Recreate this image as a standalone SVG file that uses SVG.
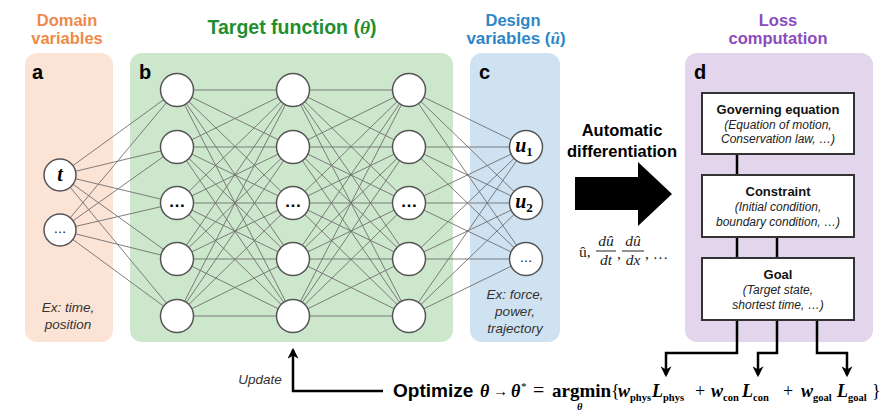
<svg xmlns="http://www.w3.org/2000/svg" width="895" height="416" viewBox="0 0 895 416">
<defs>
<style>
.sans{font-family:"Liberation Sans",Arial,sans-serif}
.serif{font-family:"Liberation Serif","Times New Roman",serif}
.title{font-family:"Liberation Sans",Arial,sans-serif;font-weight:bold;font-size:16.5px;text-anchor:middle}
.letter{font-family:"Liberation Sans",Arial,sans-serif;font-weight:bold;font-size:20px;fill:#000}
.ex{font-family:"Liberation Sans",Arial,sans-serif;font-style:italic;font-size:13.5px;fill:#333;text-anchor:middle}
.node circle{fill:#fff;stroke:#555;stroke-width:1.5}
.edge line{stroke:#6f6f6f;stroke-width:0.9}
.box rect{fill:#fff;stroke:#333;stroke-width:2}
.bt{font-family:"Liberation Sans",Arial,sans-serif;font-weight:bold;font-size:13px;text-anchor:middle;fill:#111}
.bs{font-family:"Liberation Sans",Arial,sans-serif;font-style:italic;font-size:12px;text-anchor:middle;fill:#222}
.flow{fill:none;stroke:#000;stroke-width:2.5}
.formula{font-family:"Liberation Serif","Times New Roman",serif;font-weight:bold;font-size:18px;fill:#000}
.it{font-style:italic}
.nb{font-weight:normal}
.sub{font-size:10.5px}
</style>
<marker id="ah" viewBox="0 0 10 10" refX="8" refY="5" markerWidth="4.4" markerHeight="4.4" orient="auto" markerUnits="strokeWidth">
<path d="M0,0 L10,5 L0,10 L3,5 Z" fill="#000"/>
</marker>
</defs>
<rect width="895" height="416" fill="#fff"/>

<!-- panels -->
<g id="panel-a"><rect x="25" y="53" width="88" height="289" rx="12" fill="#FBE3D6"/><text class="letter" x="32" y="79">a</text></g>
<g id="panel-b"><rect x="130" y="53" width="323" height="289" rx="12" fill="#CDE7CC"/><text class="letter" x="139" y="79">b</text></g>
<g id="panel-c"><rect x="470" y="53" width="90" height="289" rx="12" fill="#CFE2F1"/><text class="letter" x="479" y="79">c</text></g>
<g id="panel-d"><rect x="685" y="53" width="188" height="289" rx="12" fill="#E3D5EC"/><text class="letter" x="694" y="79">d</text></g>

<!-- titles -->
<g id="titles">
<text class="title" x="67" y="26" fill="#EE8A49">Domain</text>
<text class="title" x="67" y="44" fill="#EE8A49">variables</text>
<text class="title" x="292" y="34" fill="#1F8F2E" style="font-size:19.5px">Target function (<tspan class="serif" font-style="italic">θ</tspan>)</text>
<text class="title" x="513" y="26" fill="#2E86C8">Design</text>
<text class="title" x="516" y="44" fill="#2E86C8" style="font-size:17px">variables (<tspan class="serif" font-style="italic">û</tspan>)</text>
<text class="title" x="778" y="26" fill="#8B4BBE">Loss</text>
<text class="title" x="778" y="44" fill="#8B4BBE">computation</text>
</g>

<!-- connectors -->
<g id="connectors">
<g class="edge">
<line x1="60" y1="175" x2="177" y2="90"/><line x1="60" y1="175" x2="177" y2="147"/><line x1="60" y1="175" x2="177" y2="203"/><line x1="60" y1="175" x2="177" y2="259"/><line x1="60" y1="175" x2="177" y2="316"/>
<line x1="60" y1="230" x2="177" y2="90"/><line x1="60" y1="230" x2="177" y2="147"/><line x1="60" y1="230" x2="177" y2="203"/><line x1="60" y1="230" x2="177" y2="259"/><line x1="60" y1="230" x2="177" y2="316"/>
<line x1="177" y1="90" x2="293" y2="90"/><line x1="177" y1="90" x2="293" y2="147"/><line x1="177" y1="90" x2="293" y2="203"/><line x1="177" y1="90" x2="293" y2="259"/><line x1="177" y1="90" x2="293" y2="316"/>
<line x1="177" y1="147" x2="293" y2="90"/><line x1="177" y1="147" x2="293" y2="147"/><line x1="177" y1="147" x2="293" y2="203"/><line x1="177" y1="147" x2="293" y2="259"/><line x1="177" y1="147" x2="293" y2="316"/>
<line x1="177" y1="203" x2="293" y2="90"/><line x1="177" y1="203" x2="293" y2="147"/><line x1="177" y1="203" x2="293" y2="203"/><line x1="177" y1="203" x2="293" y2="259"/><line x1="177" y1="203" x2="293" y2="316"/>
<line x1="177" y1="259" x2="293" y2="90"/><line x1="177" y1="259" x2="293" y2="147"/><line x1="177" y1="259" x2="293" y2="203"/><line x1="177" y1="259" x2="293" y2="259"/><line x1="177" y1="259" x2="293" y2="316"/>
<line x1="177" y1="316" x2="293" y2="90"/><line x1="177" y1="316" x2="293" y2="147"/><line x1="177" y1="316" x2="293" y2="203"/><line x1="177" y1="316" x2="293" y2="259"/><line x1="177" y1="316" x2="293" y2="316"/>
<line x1="293" y1="90" x2="409" y2="90"/><line x1="293" y1="90" x2="409" y2="147"/><line x1="293" y1="90" x2="409" y2="203"/><line x1="293" y1="90" x2="409" y2="259"/><line x1="293" y1="90" x2="409" y2="316"/>
<line x1="293" y1="147" x2="409" y2="90"/><line x1="293" y1="147" x2="409" y2="147"/><line x1="293" y1="147" x2="409" y2="203"/><line x1="293" y1="147" x2="409" y2="259"/><line x1="293" y1="147" x2="409" y2="316"/>
<line x1="293" y1="203" x2="409" y2="90"/><line x1="293" y1="203" x2="409" y2="147"/><line x1="293" y1="203" x2="409" y2="203"/><line x1="293" y1="203" x2="409" y2="259"/><line x1="293" y1="203" x2="409" y2="316"/>
<line x1="293" y1="259" x2="409" y2="90"/><line x1="293" y1="259" x2="409" y2="147"/><line x1="293" y1="259" x2="409" y2="203"/><line x1="293" y1="259" x2="409" y2="259"/><line x1="293" y1="259" x2="409" y2="316"/>
<line x1="293" y1="316" x2="409" y2="90"/><line x1="293" y1="316" x2="409" y2="147"/><line x1="293" y1="316" x2="409" y2="203"/><line x1="293" y1="316" x2="409" y2="259"/><line x1="293" y1="316" x2="409" y2="316"/>
<line x1="409" y1="90" x2="526" y2="147"/><line x1="409" y1="90" x2="526" y2="203"/><line x1="409" y1="90" x2="526" y2="259"/>
<line x1="409" y1="147" x2="526" y2="147"/><line x1="409" y1="147" x2="526" y2="203"/><line x1="409" y1="147" x2="526" y2="259"/>
<line x1="409" y1="203" x2="526" y2="147"/><line x1="409" y1="203" x2="526" y2="203"/><line x1="409" y1="203" x2="526" y2="259"/>
<line x1="409" y1="259" x2="526" y2="147"/><line x1="409" y1="259" x2="526" y2="203"/><line x1="409" y1="259" x2="526" y2="259"/>
<line x1="409" y1="316" x2="526" y2="147"/><line x1="409" y1="316" x2="526" y2="203"/><line x1="409" y1="316" x2="526" y2="259"/>
</g>
<line class="flow" x1="737" y1="154" x2="737" y2="175"/>
<line class="flow" x1="737" y1="237" x2="737" y2="258"/>
<line class="flow" x1="777" y1="237" x2="777" y2="258"/>
<path class="flow" d="M737,320 V353 H666 V375" marker-end="url(#ah)"/>
<path class="flow" d="M777,320 V353 H758 V375" marker-end="url(#ah)"/>
<path class="flow" d="M817,320 V353 H847 V375" marker-end="url(#ah)"/>
<path class="flow" d="M383,391 H293 V350" marker-end="url(#ah)"/>
<polygon points="575,177 638,177 638,162 672,194 638,226 638,210 575,210" fill="#000"/>
</g>

<!-- input nodes -->
<g id="in-t" class="node"><circle cx="60" cy="175" r="16"/><text class="serif" x="60" y="181" font-size="20" font-weight="bold" font-style="italic" text-anchor="middle">t</text></g>
<g id="in-more" class="node"><circle cx="60" cy="230" r="16"/><text class="sans" x="60" y="233" font-size="13" text-anchor="middle">…</text></g>

<!-- hidden layers -->
<g id="h1-1" class="node"><circle cx="177" cy="90" r="16.5"/></g>
<g id="h1-2" class="node"><circle cx="177" cy="147" r="16.5"/></g>
<g id="h1-3" class="node"><circle cx="177" cy="203" r="16.5"/><text class="sans" x="177" y="207" font-size="17" font-weight="bold" text-anchor="middle">…</text></g>
<g id="h1-4" class="node"><circle cx="177" cy="259" r="16.5"/></g>
<g id="h1-5" class="node"><circle cx="177" cy="316" r="16.5"/></g>
<g id="h2-1" class="node"><circle cx="293" cy="90" r="16.5"/></g>
<g id="h2-2" class="node"><circle cx="293" cy="147" r="16.5"/></g>
<g id="h2-3" class="node"><circle cx="293" cy="203" r="16.5"/><text class="sans" x="293" y="207" font-size="17" font-weight="bold" text-anchor="middle">…</text></g>
<g id="h2-4" class="node"><circle cx="293" cy="259" r="16.5"/></g>
<g id="h2-5" class="node"><circle cx="293" cy="316" r="16.5"/></g>
<g id="h3-1" class="node"><circle cx="409" cy="90" r="16.5"/></g>
<g id="h3-2" class="node"><circle cx="409" cy="147" r="16.5"/></g>
<g id="h3-3" class="node"><circle cx="409" cy="203" r="16.5"/><text class="sans" x="409" y="207" font-size="17" font-weight="bold" text-anchor="middle">…</text></g>
<g id="h3-4" class="node"><circle cx="409" cy="259" r="16.5"/></g>
<g id="h3-5" class="node"><circle cx="409" cy="316" r="16.5"/></g>

<!-- outputs -->
<g id="out-u1" class="node"><circle cx="526" cy="147" r="16.5"/><text class="serif" x="524" y="152" font-size="20" font-weight="bold" font-style="italic" text-anchor="middle">u<tspan font-size="13" font-style="normal" dy="4">1</tspan></text></g>
<g id="out-u2" class="node"><circle cx="526" cy="203" r="16.5"/><text class="serif" x="524" y="208" font-size="20" font-weight="bold" font-style="italic" text-anchor="middle">u<tspan font-size="13" font-style="normal" dy="4">2</tspan></text></g>
<g id="out-more" class="node"><circle cx="526" cy="259" r="16.5"/><text class="sans" x="526" y="262" font-size="13" text-anchor="middle">…</text></g>

<!-- example texts -->
<text class="ex" x="68" y="312">Ex: time,</text>
<text class="ex" x="68" y="329">position</text>
<text class="ex" x="515" y="299">Ex: force,</text>
<text class="ex" x="515" y="316">power,</text>
<text class="ex" x="515" y="333">trajectory</text>

<!-- automatic differentiation -->
<g id="autodiff">
<text class="sans" x="622" y="136" font-size="16.5" font-weight="bold" text-anchor="middle">Automatic</text>
<text class="sans" x="622" y="157" font-size="16.5" font-weight="bold" text-anchor="middle">differentiation</text>
<g class="serif" font-style="italic" font-size="15.5" fill="#222">
<text x="579" y="257" font-style="normal">û,</text>
<text x="606" y="246" text-anchor="middle">dû</text>
<line x1="596" y1="251" x2="616" y2="251" stroke="#222" stroke-width="1"/>
<text x="606" y="265" text-anchor="middle">dt</text>
<text x="617" y="259" font-style="normal">,</text>
<text x="633" y="246" text-anchor="middle">dû</text>
<line x1="622" y1="251" x2="644" y2="251" stroke="#222" stroke-width="1"/>
<text x="633" y="265" text-anchor="middle">dx</text>
<text x="645" y="259" font-style="normal">, …</text>
</g>
</g>

<!-- loss boxes -->
<g id="box-governing" class="box"><rect x="702" y="93" width="152" height="61"/>
<text class="bt" x="778" y="114">Governing equation</text>
<text class="bs" x="778" y="129">(Equation of motion,</text>
<text class="bs" x="778" y="143">Conservation law, …)</text></g>
<g id="box-constraint" class="box"><rect x="702" y="175" width="152" height="62"/>
<text class="bt" x="778" y="196">Constraint</text>
<text class="bs" x="778" y="211">(Initial condition,</text>
<text class="bs" x="778" y="226">boundary condition, …)</text></g>
<g id="box-goal" class="box"><rect x="702" y="258" width="152" height="62"/>
<text class="bt" x="778" y="279">Goal</text>
<text class="bs" x="778" y="294">(Target state,</text>
<text class="bs" x="778" y="309">shortest time, …)</text></g>

<!-- update & optimize -->
<text class="ex" x="260" y="384">Update</text>
<g id="optimize">
<text class="sans" x="393" y="397" font-size="19" font-weight="bold">Optimize</text>
<text class="formula"><tspan class="it" x="480" y="397">θ</tspan><tspan class="nb" x="493" y="396" font-size="15">→</tspan><tspan class="it" x="511" y="397">θ</tspan><tspan class="nb" x="521" y="390" font-size="11">*</tspan><tspan class="nb" x="533" y="397" font-size="20">=</tspan><tspan x="552" y="397" font-size="19">argmin</tspan><tspan class="it" x="577" y="410" font-size="10.5">θ</tspan><tspan class="nb" x="611" y="397">{</tspan><tspan class="it" x="618" y="397">w</tspan><tspan class="sub" x="630" y="401">phys</tspan><tspan class="it" x="652" y="397">L</tspan><tspan class="sub" x="663" y="401">phys</tspan><tspan class="nb" x="695" y="397">+</tspan><tspan class="it" x="711" y="397">w</tspan><tspan class="sub" x="723" y="401">con</tspan><tspan class="it" x="742" y="397">L</tspan><tspan class="sub" x="753" y="401">con</tspan><tspan class="nb" x="783" y="397">+</tspan><tspan class="it" x="801" y="397">w</tspan><tspan class="sub" x="813" y="401">goal</tspan><tspan class="it" x="837" y="397">L</tspan><tspan class="sub" x="848" y="401">goal</tspan><tspan class="nb" x="872" y="397">}</tspan></text>
</g>
</svg>
